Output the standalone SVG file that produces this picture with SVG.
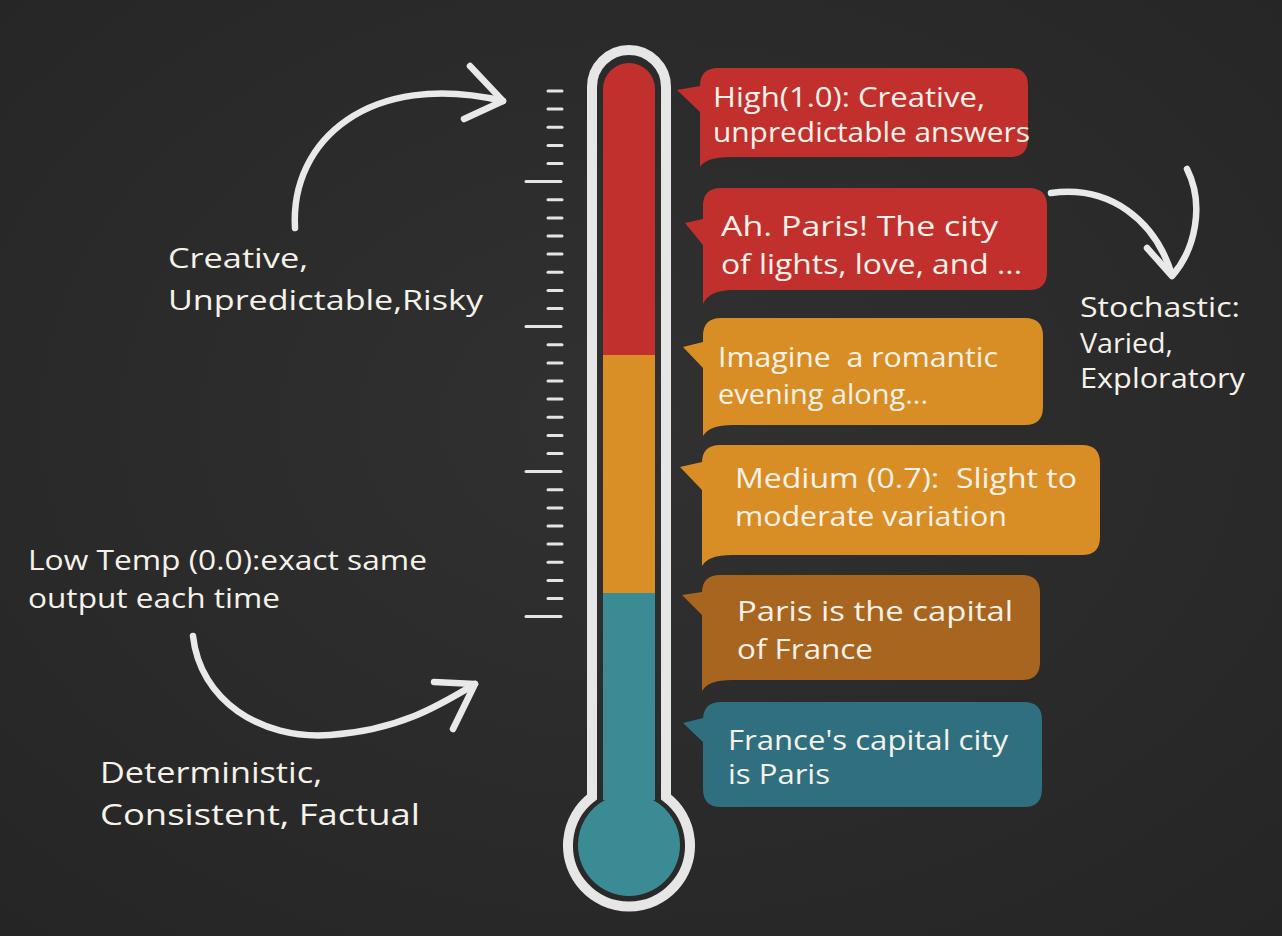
<svg xmlns="http://www.w3.org/2000/svg" width="1282" height="936" viewBox="0 0 1282 936">
<defs>
<radialGradient id="bg" cx="50%" cy="45%" r="75%">
<stop offset="0" stop-color="#313131"/>
<stop offset="1" stop-color="#252525"/>
</radialGradient>
<clipPath id="tubeClip">
<path d="M603,89 A26 26 0 0 1 655,89 V800 H603 Z"/>
<circle cx="629" cy="845" r="51"/>
</clipPath>
</defs>
<style>
.t{font-family:"Open Sans","Liberation Sans",sans-serif;fill:#f5f2ea;font-size:27px;font-weight:500;white-space:pre}
.big{font-size:30px}
.arrow{fill:none;stroke:#e9e9e9;stroke-width:6.5;stroke-linecap:round;stroke-linejoin:round}
.tick{stroke:#e4e4e4;stroke-width:3;stroke-linecap:round}
.red{fill:#c2302d}
.orange{fill:#d98e25}
.brown{fill:#a8651f}
.teal{fill:#2f6f80}
</style>
<rect width="1282" height="936" fill="url(#bg)"/>

<g id="thermometer">
<g clip-path="url(#tubeClip)">
<rect x="570" y="50" width="120" height="305" fill="#c2302d"/>
<rect x="570" y="355" width="120" height="238" fill="#d98f25"/>
<rect x="570" y="593" width="120" height="320" fill="#3b8b94"/>
</g>
<path d="M592,797 V87 A37 37 0 0 1 666,87 V797 A61 61 0 1 1 592,797 Z" fill="none" stroke="#e6e6e6" stroke-width="10"/>
</g>

<g id="scale">
<line class="tick" x1="548" y1="91" x2="562" y2="91"/>
<line class="tick" x1="548" y1="109.1" x2="562" y2="109.1"/>
<line class="tick" x1="548" y1="127.3" x2="562" y2="127.3"/>
<line class="tick" x1="548" y1="145.4" x2="562" y2="145.4"/>
<line class="tick" x1="548" y1="163.5" x2="562" y2="163.5"/>
<line class="tick" x1="526" y1="181.6" x2="561" y2="181.6"/>
<line class="tick" x1="548" y1="199.8" x2="562" y2="199.8"/>
<line class="tick" x1="548" y1="217.9" x2="562" y2="217.9"/>
<line class="tick" x1="548" y1="236" x2="562" y2="236"/>
<line class="tick" x1="548" y1="254.1" x2="562" y2="254.1"/>
<line class="tick" x1="548" y1="272.3" x2="562" y2="272.3"/>
<line class="tick" x1="548" y1="290.4" x2="562" y2="290.4"/>
<line class="tick" x1="548" y1="308.5" x2="562" y2="308.5"/>
<line class="tick" x1="526" y1="326.6" x2="561" y2="326.6"/>
<line class="tick" x1="548" y1="344.8" x2="562" y2="344.8"/>
<line class="tick" x1="548" y1="362.9" x2="562" y2="362.9"/>
<line class="tick" x1="548" y1="381" x2="562" y2="381"/>
<line class="tick" x1="548" y1="399.1" x2="562" y2="399.1"/>
<line class="tick" x1="548" y1="417.3" x2="562" y2="417.3"/>
<line class="tick" x1="548" y1="435.4" x2="562" y2="435.4"/>
<line class="tick" x1="548" y1="453.5" x2="562" y2="453.5"/>
<line class="tick" x1="526" y1="471.6" x2="561" y2="471.6"/>
<line class="tick" x1="548" y1="489.8" x2="562" y2="489.8"/>
<line class="tick" x1="548" y1="507.9" x2="562" y2="507.9"/>
<line class="tick" x1="548" y1="526" x2="562" y2="526"/>
<line class="tick" x1="548" y1="544.1" x2="562" y2="544.1"/>
<line class="tick" x1="548" y1="562.3" x2="562" y2="562.3"/>
<line class="tick" x1="548" y1="580.4" x2="562" y2="580.4"/>
<line class="tick" x1="548" y1="598.5" x2="562" y2="598.5"/>
<line class="tick" x1="526" y1="616.6" x2="561" y2="616.6"/>
</g>

<g id="bubble-high">
<path class="red" d="M718,68 H1010 Q1028,68 1028,86 V139 Q1028,157 1010,157 H730 Q706,157 700,167 V112 L677,90 L700,86 V86 Q700,68 718,68 Z"/>
<text class="t" x="713" y="107" textLength="272" lengthAdjust="spacingAndGlyphs">High(1.0): Creative,</text>
<text class="t" x="713" y="142" textLength="317" lengthAdjust="spacingAndGlyphs">unpredictable answers</text>
</g>

<g id="bubble-paris-romantic">
<path class="red" d="M721,188 H1029 Q1047,188 1047,206 V272 Q1047,290 1029,290 H733 Q709,290 703,304 V245 L685,223 L703,219 V206 Q703,188 721,188 Z"/>
<text class="t" x="721" y="236" textLength="277" lengthAdjust="spacingAndGlyphs">Ah. Paris! The city</text>
<text class="t" x="721" y="274" textLength="301" lengthAdjust="spacingAndGlyphs">of lights, love, and ...</text>
</g>

<g id="bubble-imagine">
<path class="orange" d="M721,318 H1025 Q1043,318 1043,336 V407 Q1043,425 1025,425 H733 Q709,425 703,436 V368 L683,347 L703,342 V336 Q703,318 721,318 Z"/>
<text class="t" x="718" y="367" textLength="280" lengthAdjust="spacingAndGlyphs">Imagine  a romantic</text>
<text class="t" x="718" y="404" textLength="210" lengthAdjust="spacingAndGlyphs">evening along...</text>
</g>

<g id="bubble-medium">
<path class="orange" d="M720,445 H1082 Q1100,445 1100,463 V537 Q1100,555 1082,555 H732 Q708,555 702,566 V490 L680,467 L702,462 V463 Q702,445 720,445 Z"/>
<text class="t" x="735" y="488" textLength="342" lengthAdjust="spacingAndGlyphs">Medium (0.7):  Slight to</text>
<text class="t" x="735" y="526" textLength="272" lengthAdjust="spacingAndGlyphs">moderate variation</text>
</g>

<g id="bubble-capital">
<path class="brown" d="M720,575 H1022 Q1040,575 1040,593 V662 Q1040,680 1022,680 H732 Q708,680 702,691 V615 L682,595 L702,592 V593 Q702,575 720,575 Z"/>
<text class="t" x="737" y="621" textLength="276" lengthAdjust="spacingAndGlyphs">Paris is the capital</text>
<text class="t" x="737" y="659" textLength="136" lengthAdjust="spacingAndGlyphs">of France</text>
</g>

<g id="bubble-france">
<path class="teal" d="M721,702 H1024 Q1042,702 1042,720 V789 Q1042,807 1024,807 H721 Q703,807 703,789 V742 L683,723 L703,718 V720 Q703,702 721,702 Z"/>
<text class="t" x="728" y="750" textLength="280" lengthAdjust="spacingAndGlyphs">France's capital city</text>
<text class="t" x="728" y="784" textLength="102" lengthAdjust="spacingAndGlyphs">is Paris</text>
</g>

<g id="label-creative">
<text class="t" x="168" y="268" textLength="140" lengthAdjust="spacingAndGlyphs">Creative,</text>
<text class="t" x="168" y="310" textLength="315" lengthAdjust="spacingAndGlyphs">Unpredictable,Risky</text>
</g>

<g id="label-low">
<text class="t" x="28" y="570" textLength="399" lengthAdjust="spacingAndGlyphs">Low Temp (0.0):exact same</text>
<text class="t" x="28" y="608" textLength="252" lengthAdjust="spacingAndGlyphs">output each time</text>
</g>

<g id="label-deterministic">
<text class="t big" x="100" y="783" textLength="222" lengthAdjust="spacingAndGlyphs">Deterministic,</text>
<text class="t big" x="100" y="825" textLength="320" lengthAdjust="spacingAndGlyphs">Consistent, Factual</text>
</g>

<g id="label-stochastic">
<text class="t" x="1080" y="317" textLength="160" lengthAdjust="spacingAndGlyphs">Stochastic:</text>
<text class="t" x="1080" y="353" textLength="93" lengthAdjust="spacingAndGlyphs">Varied,</text>
<text class="t" x="1080" y="388" textLength="165" lengthAdjust="spacingAndGlyphs">Exploratory</text>
</g>

<g id="connectors">
<path class="arrow" d="M295,228 C290,140 370,70 503,101"/>
<path class="arrow" d="M470,66 L503,101 L464,119"/>
<path class="arrow" d="M193,636 C200,700 260,740 330,735 C400,730 440,705 475,684"/>
<path class="arrow" d="M434,682 L475,684 L453,729"/>
<path class="arrow" d="M1051,193 C1110,185 1155,220 1172,275"/>
<path class="arrow" d="M1147,248 L1172,276 C1195,250 1205,205 1187,169"/>
</g>
</svg>
